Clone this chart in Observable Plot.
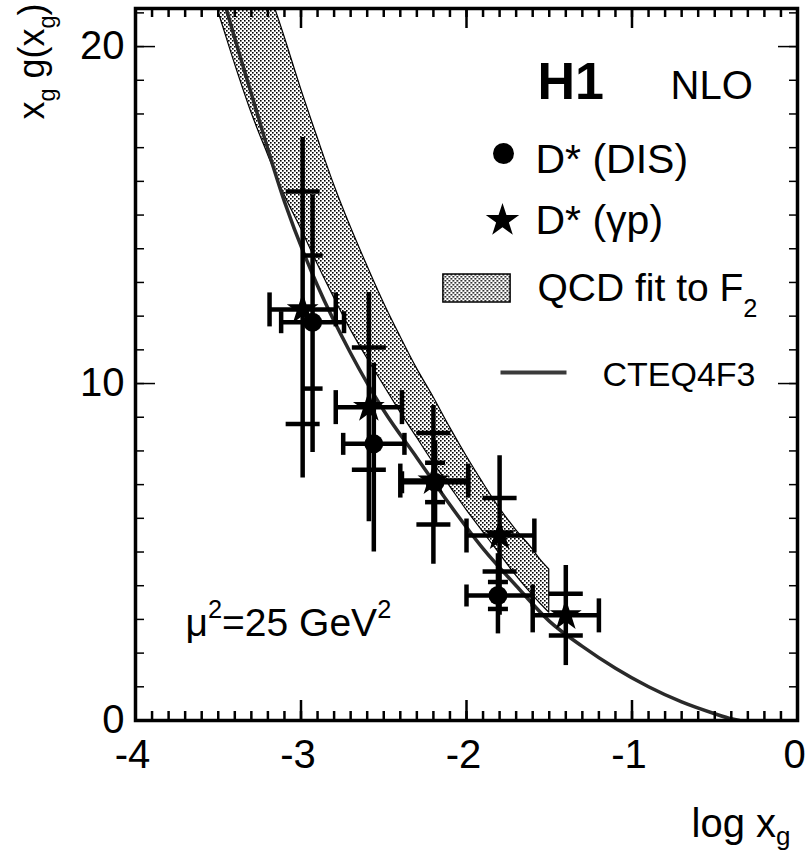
<!DOCTYPE html>
<html>
<head>
<meta charset="utf-8">
<script src="https://cdn.jsdelivr.net/npm/d3@7"></script>
<script src="https://cdn.jsdelivr.net/npm/@observablehq/plot@0.6"></script>
<style>
  body { margin: 0; background: #fff; }
  #chart svg { display: block; }
</style>
</head>
<body>
<div id="chart"></div>
<script>
// ---------------- data ----------------
const xMajorTicks = [-4, -3, -2, -1, 0];
const yMajorTicks = [0, 10, 20];
const xMinorTicks = d3.range(-40, 1).map(i => i / 10);
const yMinorTicks = d3.range(0, 22);

// D* (gamma p) — stars
const gpX     = [-2.99, -2.59, -2.20, -1.80, -1.40];
const gpY     = [12.2, 9.3, 7.12, 5.49, 3.12];
const gpTotLo = [7.2, 5.9, 4.64, 3.12, 1.63];
const gpTotHi = [17.3, 12.7, 9.35, 7.86, 4.6];
const gpStatLo = [8.8, 7.44, 5.82, 4.42, 2.52];
const gpStatHi = [15.7, 11.07, 8.53, 6.6, 3.76];
const gpXLo   = [-3.19, -2.79, -2.40, -2.00, -1.60];
const gpXHi   = [-2.79, -2.39, -1.99, -1.59, -1.20];

// D* (DIS) — circles
const disX     = [-2.93, -2.56, -2.19, -1.81];
const disY     = [11.82, 8.21, 7.07, 3.71];
const disTotLo = [7.95, 5.0, 5.85, 2.57];
const disTotHi = [15.6, 10.6, 8.3, 4.95];
const disStatLo = [9.85, null, 6.48, 3.31];
const disStatHi = [13.8, null, 7.65, 4.11];
const disXLo   = [-3.12, -2.745, -2.39, -2.0];
const disXHi   = [-2.74, -2.375, -1.99, -1.60];

// QCD fit to F2 — band
const bandX    = [-3.55, -3.5, -3.4, -3.3, -3.2, -3.1, -3.0, -2.9, -2.8, -2.7, -2.6, -2.5, -2.4, -2.3, -2.2, -2.1, -2.0, -1.9, -1.8, -1.7, -1.6, -1.55, -1.5];
const bandLow  = [21.8, 21.05, 19.5, 18.05, 16.8, 15.6, 14.6, 13.55, 12.55, 11.6, 10.75, 9.95, 9.15, 8.4, 7.65, 6.95, 6.25, 5.6, 4.95, 4.3, 3.72, 3.45, 3.2];
const bandHigh = [28.2, 27.2, 25.3, 23.5, 21.8, 20.3, 18.75, 17.3, 15.9, 14.65, 13.5, 12.4, 11.4, 10.45, 9.6, 8.7, 7.85, 7.05, 6.3, 5.65, 5.08, 4.75, 4.48];

// CTEQ4F3 — line
const cteqX = [-3.5, -3.45, -3.3, -3.1, -2.9, -2.7, -2.5, -2.3, -2.1, -1.9, -1.7, -1.5, -1.3, -1.1, -0.9, -0.7, -0.5, -0.4, -0.35];
const cteqY = [22.0, 21.1, 18.6, 15.4, 12.9, 10.9, 9.2, 7.8, 6.4, 5.1, 4.0, 2.95, 2.2, 1.55, 1.0, 0.55, 0.2, 0.05, 0.0];

// ---------------- tables ----------------
const gpRows = gpX.map((x, i) => ({x, y: gpY[i], lo: gpTotLo[i], hi: gpTotHi[i], slo: gpStatLo[i], shi: gpStatHi[i], xlo: gpXLo[i], xhi: gpXHi[i]}));
const disRows = disX.map((x, i) => ({x, y: disY[i], lo: disTotLo[i], hi: disTotHi[i], slo: disStatLo[i], shi: disStatHi[i], xlo: disXLo[i], xhi: disXHi[i]}));
const bandRows = bandX.map((x, i) => ({x, lo: bandLow[i], hi: bandHigh[i]}));
const cteqRows = cteqX.map((x, i) => ({x, y: cteqY[i]}));

// ---------------- layout ----------------
const W = 806, H = 852;
const ML = 135, MR = 9, MT = 8, MB = 132;
const Y_DOMAIN = [0, 21.13];
const FONT = "'Liberation Sans', Arial, Helvetica, sans-serif";
const pxPerY = (H - MT - MB) / (Y_DOMAIN[1] - Y_DOMAIN[0]);

// custom symbols (r = half length)
const vbar = {draw(ctx, size) { const r = Math.sqrt(size / Math.PI); ctx.moveTo(0, -r); ctx.lineTo(0, r); }};
const hbar = {draw(ctx, size) { const r = Math.sqrt(size / Math.PI); ctx.moveTo(-r, 0); ctx.lineTo(r, 0); }};
const swatch = {draw(ctx, size) { const r = Math.sqrt(size / Math.PI); ctx.rect(-1.2 * r, -0.5 * r, 2.4 * r, r); }};

const EW = 4.5; // error bar width
function errorMarks(rows, capR, statR) {
  const withStat = rows.filter(d => d.slo != null);
  return [
    Plot.ruleX(rows, {x: "x", y1: "lo", y2: "hi", stroke: "black", strokeWidth: EW}),
    Plot.ruleY(rows, {y: "y", x1: "xlo", x2: "xhi", stroke: "black", strokeWidth: EW}),
    Plot.dot(rows, {x: "xlo", y: "y", symbol: vbar, r: capR, fill: "none", stroke: "black", strokeWidth: EW}),
    Plot.dot(rows, {x: "xhi", y: "y", symbol: vbar, r: capR, fill: "none", stroke: "black", strokeWidth: EW}),
    Plot.dot(withStat, {x: "x", y: "slo", symbol: hbar, r: statR, fill: "none", stroke: "black", strokeWidth: EW}),
    Plot.dot(withStat, {x: "x", y: "shi", symbol: hbar, r: statR, fill: "none", stroke: "black", strokeWidth: EW})
  ];
}
// inward x ticks on bottom and top edges (length in px, converted to y units)
function xTicks(values, len) {
  const l = len / pxPerY;
  return [
    Plot.ruleX(values, {x: d => d, y1: Y_DOMAIN[0], y2: Y_DOMAIN[0] + l, stroke: "black", strokeWidth: 2.5}),
    Plot.ruleX(values, {x: d => d, y1: Y_DOMAIN[1] - l, y2: Y_DOMAIN[1], stroke: "black", strokeWidth: 2.5})
  ];
}

function label(txt, x, baseline, fs, extra = {}) {
  return Plot.text([txt], {
    x: null, y: null, text: d => d,
    frameAnchor: "top-left", dx: x - ML, dy: baseline - MT - 0.32 * fs,
    lineAnchor: "middle", textAnchor: "start", fontSize: fs, fill: "black", ...extra
  });
}
function legendSym(cx, cy, opts) {
  return Plot.dot([0], {x: null, y: null, frameAnchor: "top-left", dx: cx - ML, dy: cy - MT, ...opts});
}

const blank = () => "";
const chart = Plot.plot({
  width: W, height: H,
  marginLeft: ML, marginRight: MR, marginTop: MT, marginBottom: MB,
  style: {fontFamily: FONT, background: "white", color: "black"},
  x: {domain: [-4, 0]},
  y: {domain: Y_DOMAIN},
  marks: [
    // band
    Plot.areaY(bandRows, {x: "x", y1: "lo", y2: "hi", fill: "url(#dots)", stroke: "black", strokeWidth: 1.2, curve: "monotone-x", clip: true}),
    // CTEQ line
    Plot.line(cteqRows, {x: "x", y: "y", stroke: "#2a2a2a", strokeWidth: 3.5, curve: "monotone-x", clip: true}),
    // error bars
    ...errorMarks(gpRows, 17, 17),
    ...errorMarks(disRows, 11, 10),
    // points
    Plot.dot(disRows, {x: "x", y: "y", r: 9.5, fill: "black", stroke: "none"}),
    Plot.dot(gpRows, {x: "x", y: "y", symbol: "star", r: 10, fill: "black", stroke: "none"}),

    // inward ticks
    ...xTicks(xMinorTicks, 9),
    ...xTicks(xMajorTicks, 20),
    Plot.axisY(yMinorTicks, {anchor: "left", tickSize: 9, dx: 9, tickFormat: blank, strokeWidth: 1.5}),
    Plot.axisY(yMinorTicks, {anchor: "right", tickSize: 9, dx: -9, tickFormat: blank, strokeWidth: 1.5}),
    Plot.axisY(yMajorTicks, {anchor: "left", tickSize: 20, dx: 20, tickFormat: blank, strokeWidth: 1.5}),
    Plot.axisY(yMajorTicks, {anchor: "right", tickSize: 20, dx: -20, tickFormat: blank, strokeWidth: 1.5}),
    // tick labels
    Plot.axisX(xMajorTicks, {anchor: "bottom", tickSize: 0, tickPadding: 19, dx: -3, fontSize: 40, tickFormat: d => String(d), label: null}),
    Plot.axisY(yMajorTicks, {anchor: "left", tickSize: 0, tickPadding: 11, fontSize: 40, tickFormat: d => String(d), label: null}),
    Plot.frame({stroke: "black", strokeWidth: 3.5}),

    // axis titles
    label("log x_g", 790, 836, 40, {textAnchor: "end"}),
    Plot.text(["x_g g(x_g)"], {x: null, y: null, text: d => d, frameAnchor: "top-left", dx: 32 - ML, dy: 3 - MT,
      rotate: -90, textAnchor: "end", lineAnchor: "middle", fontSize: 36, fill: "black"}),

    // legend
    label("H1", 537, 98, 52, {fontWeight: "bold"}),
    label("NLO", 670, 98, 40),
    legendSym(503, 153, {r: 10.5, fill: "black", stroke: "none"}),
    label("D* (DIS)", 535, 172, 41),
    legendSym(502, 220, {symbol: "star", r: 10.5, fill: "black", stroke: "none"}),
    label("D* (γp)", 535, 233, 41),
    legendSym(476, 287.5, {symbol: swatch, r: 28, fill: "url(#dots)", stroke: "black", strokeWidth: 1.5}),
    label("QCD fit to F_2", 537, 300, 39),
    legendSym(533, 372, {symbol: hbar, r: 33, fill: "none", stroke: "#3a3a3a", strokeWidth: 4}),
    label("CTEQ4F3", 602, 385, 34),
    label("μ^2=25 GeV^2", 185, 635, 39)
  ]
});

// stipple pattern for the QCD band
const svg = d3.select(chart.tagName.toLowerCase() === "svg" ? chart : chart.querySelector("svg"));
svg.insert("defs", ":first-child").html(
  '<pattern id="dots" width="4" height="4" patternUnits="userSpaceOnUse">' +
  '<rect width="4" height="4" fill="white"/>' +
  '<rect x="0" y="0" width="1.6" height="1.6" fill="black"/>' +
  '<rect x="2" y="2" width="1.6" height="1.6" fill="black"/>' +
  '</pattern>');

// sub/superscripts: "_c" -> subscript c, "^c" -> superscript c
const SCALE = 0.65;
const subShift = {"log x_g": 0.22, "x_g g(x_g)": 0.3};
svg.selectAll("text").each(function () {
  const s = this.textContent;
  if (!/[_^]/.test(s)) return;
  const SUB = subShift[s] ?? 0.42, SUP = 0.45;
  const el = d3.select(this);
  el.text(null);
  let buf = "", pending = 0;
  const flush = () => {
    if (!buf) return;
    const t = el.append("tspan").text(buf);
    if (pending) t.attr("dy", pending + "em");
    pending = 0; buf = "";
  };
  for (let i = 0; i < s.length; i++) {
    const c = s[i];
    if ((c === "_" || c === "^") && i + 1 < s.length) {
      flush();
      const sh = c === "_" ? SUB : -SUP;
      el.append("tspan").attr("font-size", SCALE + "em")
        .attr("dy", ((sh + pending) / SCALE) + "em").text(s[i + 1]);
      pending = -sh; i++;
    } else buf += c;
  }
  flush();
});

document.getElementById("chart").appendChild(chart);
</script>
</body>
</html>
